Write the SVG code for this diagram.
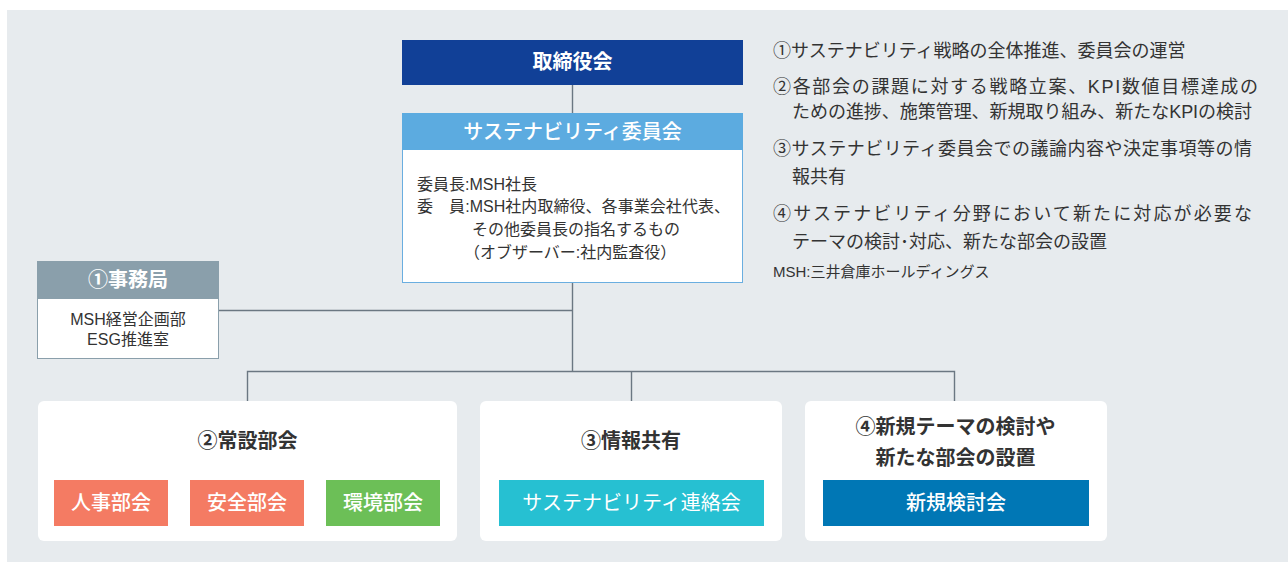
<svg xmlns="http://www.w3.org/2000/svg" width="1288" height="562" viewBox="0 0 1288 562">
<style>
text{font-family:"Liberation Sans","Noto Sans CJK JP",sans-serif;}
.w{fill:#fff;}
.d{fill:#333;}
.b{font-weight:bold;}
.m{font-weight:500;}
.c{text-anchor:middle;}
.ln{stroke:#6b7782;stroke-width:1.4;fill:none;}
.card{fill:#fff;}
</style>
<rect x="7" y="10" width="1281" height="552" fill="#e7ebee"/>
<g id="connectors">
<path class="ln" d="M572.5 85V113M572.5 283V371.5M218 310.5H572.5M247.5 401V371.5H954.5V401M631.5 371.5V401"/>
</g>
<g id="board">
<rect x="402" y="40" width="341" height="45" fill="#114097"/>
<text class="w b c" x="572.5" y="68.5" font-size="20">取締役会</text>
</g>
<g id="committee">
<rect x="402.5" y="113.5" width="340" height="169" fill="#fff" stroke="#6aaee0"/>
<rect x="402" y="113" width="341" height="37" fill="#5cabe0"/>
<text class="w m c" x="572.5" y="139" font-size="20">サステナビリティ委員会</text>
<text class="d" font-size="16" x="417" y="189.5">委員長:MSH社長</text>
<text class="d" font-size="16" x="417" y="212" textLength="313" lengthAdjust="spacing">委　員:MSH社内取締役、各事業会社代表、</text>
<text class="d" font-size="16" x="472" y="235">その他委員長の指名するもの</text>
<text class="d" font-size="16" x="464" y="258">（オブザーバー:社内監査役）</text>
</g>
<g id="notes">
<text class="d" font-size="18" x="773" y="56.5">①サステナビリティ戦略の全体推進、委員会の運営</text>
<text class="d" font-size="18" x="773" y="92.5" textLength="485" lengthAdjust="spacing">②各部会の課題に対する戦略立案、KPI数値目標達成の</text>
<text class="d" font-size="18" x="792" y="118" textLength="460" lengthAdjust="spacing">ための進捗、施策管理、新規取り組み、新たなKPIの検討</text>
<text class="d" font-size="18" x="773" y="154.5" textLength="479" lengthAdjust="spacing">③サステナビリティ委員会での議論内容や決定事項等の情</text>
<text class="d" font-size="18" x="792" y="183">報共有</text>
<text class="d" font-size="18" x="773" y="219.5" textLength="479" lengthAdjust="spacing">④サステナビリティ分野において新たに対応が必要な</text>
<text class="d" font-size="18" x="792" y="248">テーマの検討･対応、新たな部会の設置</text>
<text class="d" font-size="15" x="773" y="277">MSH:三井倉庫ホールディングス</text>
</g>
<g id="secretariat">
<rect x="37.5" y="261.5" width="181" height="97" fill="#fff" stroke="#8a9fab"/>
<rect x="37" y="261" width="182" height="38" fill="#8a9fab"/>
<text class="w b c" x="128" y="287" font-size="20">①事務局</text>
<text class="d c" x="128" y="324.5" font-size="16">MSH経営企画部</text>
<text class="d c" x="128" y="345" font-size="16">ESG推進室</text>
</g>
<g id="standing">
<rect class="card" x="38" y="401" width="419" height="140" rx="6"/>
<text class="d b c" x="247.5" y="448" font-size="20">②常設部会</text>
</g>
<g id="hr">
<rect x="54" y="480" width="114" height="46" fill="#f47b63"/>
<text class="w m c" x="111" y="510" font-size="20">人事部会</text>
</g>
<g id="safety">
<rect x="190" y="480" width="114" height="46" fill="#f47b63"/>
<text class="w m c" x="247" y="510" font-size="20">安全部会</text>
</g>
<g id="env">
<rect x="326" y="480" width="114" height="46" fill="#6cbf57"/>
<text class="w m c" x="383" y="510" font-size="20">環境部会</text>
</g>
<g id="info">
<rect class="card" x="480" y="401" width="302" height="140" rx="6"/>
<text class="d b c" x="631" y="448" font-size="20">③情報共有</text>
</g>
<g id="liaison">
<rect x="499" y="480" width="265" height="46" fill="#26c0d2"/>
<text class="w c" x="631.5" y="510" font-size="20">サステナビリティ連絡会</text>
</g>
<g id="newtheme">
<rect class="card" x="805" y="401" width="302" height="140" rx="6"/>
<text class="d b c" x="955.5" y="434" font-size="20">④新規テーマの検討や</text>
<text class="d b c" x="955.5" y="465" font-size="20">新たな部会の設置</text>
</g>
<g id="newcommittee">
<rect x="823" y="480" width="266" height="46" fill="#0077b5"/>
<text class="w m c" x="956" y="510" font-size="20">新規検討会</text>
</g>
</svg>
